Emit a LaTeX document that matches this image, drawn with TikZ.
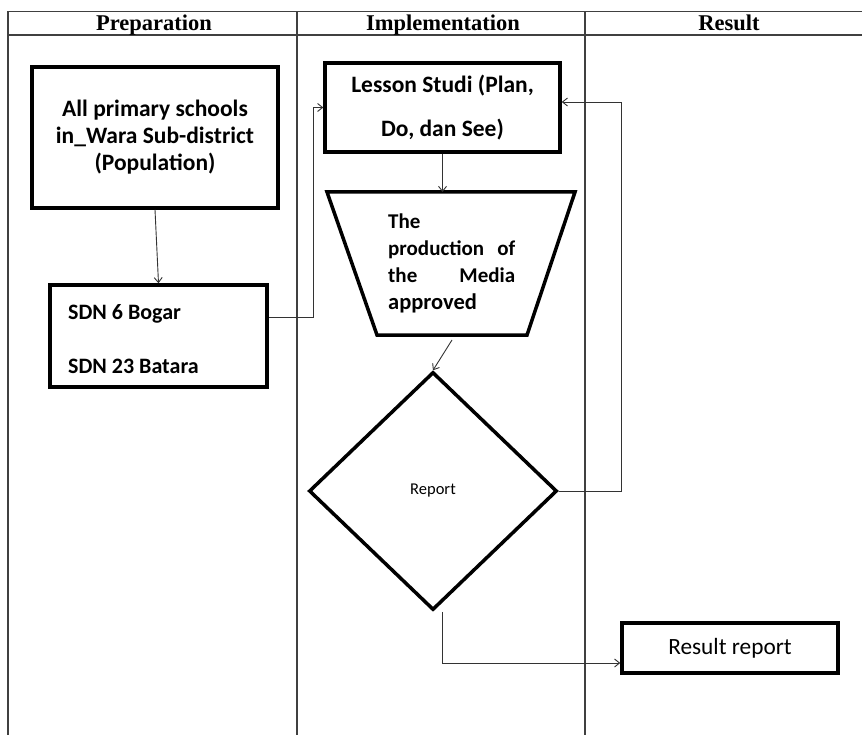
\documentclass[tikz,border=0pt]{standalone}
\usepackage{fontspec}
\setmainfont{Carlito}
\newfontfamily\headfont{Liberation Serif}
\usepackage{tikz}
\usetikzlibrary{calc,shapes.geometric,arrows.meta}

\begin{document}
\begin{tikzpicture} [x=1pt, y=-1pt,
		rule/.style = {draw=black!75, line width=1.3pt},
		head/.style = {anchor=base, font=\headfont\fontsize{22.5}{24}\selectfont\bfseries},
		box/.style = {draw, line width=3.5pt, inner sep=0pt, align=center,
			font=\fontsize{23.5}{27}\selectfont\bfseries},
		link/.style = {draw=black!80, line width=0.9pt, -{Straight Barb[length=5pt,width=8pt]}}]
		\useasboundingbox (0,0) rectangle (862,735);
		%----------------------------------------------------
		% The table : header row and three lanes
		%----------------------------------------------------
		\draw [rule] (8,11.5) -- (862,11.5);
		\draw [rule] (8,35) -- (862,35);
		\draw [rule] (8,11.5) -- (8,735);
		\draw [rule] (297,11.5) -- (297,735);
		\draw [rule] (585,11.5) -- (585,735);
		\node [head] (prep) at (154,30.5) {Preparation};
		\node [head] (impl) at (443,30.5) {Implementation};
		\node [head] (res) at (729,30.5) {Result};
		
		%----------------------------------------------------
		% Preparation lane
		%----------------------------------------------------
		\node [box, minimum width=246pt, minimum height=141pt] (pop) at (155,137.5)
			{All primary schools\\in\_Wara Sub-district\\(Population)};
		\node [draw, line width=3.5pt, minimum width=217pt, minimum height=102pt] (sdn) at (158.5,336) {};
		\node [anchor=west, inner sep=0pt, align=left,
			font=\fontsize{22}{26}\selectfont\bfseries] (sdntxt) at (68,339)
			{SDN 6 Bogar\\[28pt]SDN 23 Batara};
		
		%----------------------------------------------------
		% Implementation lane
		%----------------------------------------------------
		\node [box, minimum width=235pt, minimum height=89pt] (lesson) at (442.5,107.5)
			{Lesson Studi (Plan,\\[17pt]Do, dan See)};
		
		% trapezoid, corners by hand
		\coordinate (TL) at (327,192);
		\coordinate (TR) at (575,192);
		\coordinate (BR) at (527,335);
		\coordinate (BL) at (377,335);
		\draw [line width=3.5pt, line join=miter] (TL) -- (TR) -- (BR) -- (BL) -- cycle;
		\coordinate (traptop) at ($(TL)!0.5!(TR)$);
		\coordinate (trapout) at (452,340);
		\node [anchor=north west, inner sep=0pt, align=left,
			font=\fontsize{21}{27}\selectfont\bfseries] (media) at (388,214)
			{The\\
			 \makebox[127pt][s]{production\hfill of}\\
			 \makebox[127pt][s]{the\hfill Media}\\
			 {\fontsize{22.5}{27}\selectfont approved}};
		
		\node [draw, diamond, line width=3.5pt, inner sep=0pt, minimum width=248pt,
			minimum height=238pt, font=\fontsize{16.5}{18}\selectfont] (report) at (433,491) {Report};
		
		%----------------------------------------------------
		% Result lane
		%----------------------------------------------------
		\node [box, minimum width=216pt, minimum height=50pt,
			font=\fontsize{23.3}{26}\selectfont] (result) at (730,648) {Result report};
		
		%----------------------------------------------------
		% Connectors
		%----------------------------------------------------
		\coordinate (sdnout) at (sdn.east |- 0,317);
		\coordinate (bendA) at (313,107.5);
		\coordinate (bendB) at (621,102);
		\coordinate (bendC) at (442,663);
		\draw [link] (pop.south) -- (sdn.north);
		\draw [link] (sdnout) -| (bendA) -- (lesson.west);
		\draw [link] (lesson.south) -- (lesson.south |- traptop);
		\draw [link] (trapout) -- (report.north);
		\draw [link] (report.east) -| (bendB) -- (bendB -| lesson.east);
		\draw [link] (report.south -| bendC) -- (bendC) -- (bendC -| result.west);
	\end{tikzpicture}
\end{document}
